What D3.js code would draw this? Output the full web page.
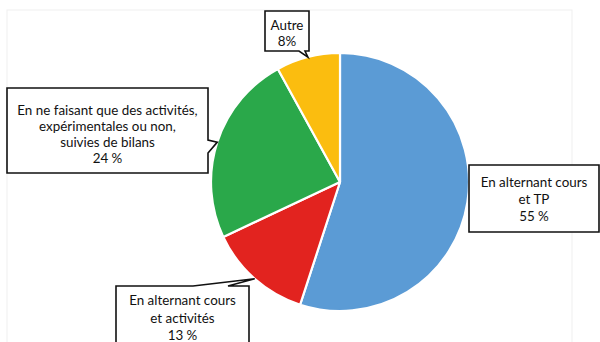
<!DOCTYPE html>
<html>
<head>
<meta charset="utf-8">
<script src="https://cdn.jsdelivr.net/npm/d3@7"></script>
<style>
  html, body { margin: 0; padding: 0; background: #fff; }
  svg { display: block; }
  text { font-family: Lato, "Open Sans", sans-serif; fill: #111; }
</style>
</head>
<body>
<svg id="chart" width="600" height="342"></svg>
<script>
// Survey answers: how the teaching is organised
const categories = [
  "En alternant cours et TP",
  "En alternant cours et activités",
  "En ne faisant que des activités, expérimentales ou non, suivies de bilans",
  "Autre"
];
const values = [55, 13, 24, 8];
const colors = ["#5b9bd5", "#e2231f", "#2aa84a", "#fbbd0f"];

// Text shown in each callout (value line appended from `values`)
const labelLines = [
  ["En alternant cours", "et TP"],
  ["En alternant cours", "et activités"],
  ["En ne faisant que des activités,", "expérimentales ou non,", "suivies de bilans"],
  ["Autre"]
];
const valueFormats = [v => v + " %", v => v + " %", v => v + " %", v => v + "%"];

// Callout boxes: rectangle, side carrying the pointer and the pointer base
const callouts = [
  { x0: 469, y0: 165, x1: 599, y1: 232, side: null, cy: 182, lh: 17 },
  { x0: 116, y0: 286, x1: 249, y1: 360, side: "top", base: [193, 228], cy: 300, lh: 17.5 },
  { x0: 7, y0: 88, x1: 208, y1: 173, side: "right", base: [140, 153], cy: 110, lh: 16 },
  { x0: 265, y0: 11, x1: 309, y1: 51, side: "bottom", base: [299, 305], cy: 24.5, lh: 16.5 }
];

const svg = d3.select("#chart");
const cx = 340, cy = 182, r = 129;

// faint chart-area frame
svg.append("rect")
  .attr("x", 7).attr("y", 10).attr("width", 565).attr("height", 400)
  .attr("fill", "none").attr("stroke", "#efefef").attr("stroke-width", 1);

const pie = d3.pie().sort(null).value(d => d)(values);
const arc = d3.arc().innerRadius(0).outerRadius(r);

const g = svg.append("g").attr("transform", `translate(${cx},${cy})`);
g.selectAll("path.slice")
  .data(pie)
  .join("path")
  .attr("class", "slice")
  .attr("d", arc)
  .attr("fill", (d, i) => colors[i])
  .attr("stroke", "#fff")
  .attr("stroke-width", 2.2)
  .attr("stroke-linejoin", "round");

// pointer tip sits on the rim at the slice's middle angle
function tipOf(d) {
  const a = (d.startAngle + d.endAngle) / 2;
  return [cx + r * Math.sin(a), cy - r * Math.cos(a)];
}

function calloutPath(c, tip) {
  const { x0, y0, x1, y1 } = c;
  let pts;
  if (c.side === "top") {
    pts = [[x0, y0], [c.base[0], y0], tip, [c.base[1], y0], [x1, y0], [x1, y1], [x0, y1]];
  } else if (c.side === "right") {
    pts = [[x0, y0], [x1, y0], [x1, c.base[0]], tip, [x1, c.base[1]], [x1, y1], [x0, y1]];
  } else if (c.side === "bottom") {
    pts = [[x0, y0], [x1, y0], [x1, y1], [c.base[1], y1], tip, [c.base[0], y1], [x0, y1]];
  } else {
    pts = [[x0, y0], [x1, y0], [x1, y1], [x0, y1]];
  }
  return d3.line()(pts) + "Z";
}

pie.forEach((d, i) => {
  const c = callouts[i];
  const lg = svg.append("g").attr("class", "callout");
  lg.append("path")
    .attr("d", calloutPath(c, tipOf(d)))
    .attr("fill", "#fff")
    .attr("stroke", "#111")
    .attr("stroke-width", 1.6)
    .attr("stroke-linejoin", "miter");
  const lines = labelLines[i].concat([valueFormats[i](values[i])]);
  const tx = (c.x0 + c.x1) / 2;
  lg.selectAll("text")
    .data(lines)
    .join("text")
    .attr("x", tx)
    .attr("y", (t, j) => c.cy + j * c.lh)
    .attr("text-anchor", "middle")
    .attr("dominant-baseline", "central")
    .attr("font-size", 13.4)
    .text(t => t);
});
</script>
</body>
</html>
